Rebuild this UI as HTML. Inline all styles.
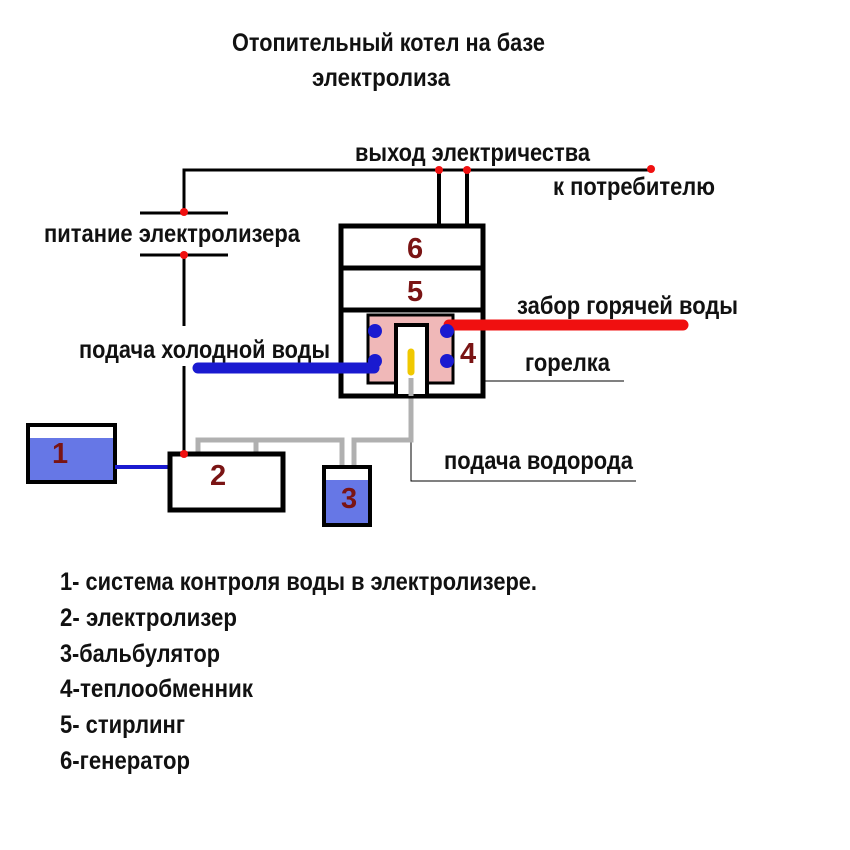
<!DOCTYPE html>
<html><head><meta charset="utf-8"><style>body{margin:0;background:#fff}svg{display:block}text{font-family:"Liberation Sans",sans-serif;font-weight:bold}</style></head><body>
<svg width="850" height="850" viewBox="0 0 850 850" xmlns="http://www.w3.org/2000/svg">
<g fill="#111" font-size="25">
<text x="232" y="51" textLength="313" lengthAdjust="spacingAndGlyphs">Отопительный котел на базе</text>
<text x="312" y="86" textLength="138" lengthAdjust="spacingAndGlyphs">электролиза</text>
<text x="355" y="161" textLength="235" lengthAdjust="spacingAndGlyphs">выход электричества</text>
<text x="553" y="195" textLength="162" lengthAdjust="spacingAndGlyphs">к потребителю</text>
<text x="44" y="242" textLength="256" lengthAdjust="spacingAndGlyphs">питание электролизера</text>
<text x="79" y="358" textLength="251" lengthAdjust="spacingAndGlyphs">подача холодной воды</text>
<text x="517" y="314" textLength="221" lengthAdjust="spacingAndGlyphs">забор горячей воды</text>
<text x="525" y="371" textLength="85" lengthAdjust="spacingAndGlyphs">горелка</text>
<text x="444" y="469" textLength="189" lengthAdjust="spacingAndGlyphs">подача водорода</text>
<text x="60" y="590" textLength="477" lengthAdjust="spacingAndGlyphs">1- система контроля воды в электролизере.</text>
<text x="60" y="626" textLength="177" lengthAdjust="spacingAndGlyphs">2- электролизер</text>
<text x="60" y="662" textLength="160" lengthAdjust="spacingAndGlyphs">3-бальбулятор</text>
<text x="60" y="697" textLength="193" lengthAdjust="spacingAndGlyphs">4-теплообменник</text>
<text x="60" y="733" textLength="125" lengthAdjust="spacingAndGlyphs">5- стирлинг</text>
<text x="60" y="769" textLength="130" lengthAdjust="spacingAndGlyphs">6-генератор</text>
</g>
<g stroke="#000" fill="none">
<polyline points="184,212 184,170 651,170" stroke-width="3"/>
<line x1="140" y1="213" x2="228" y2="213" stroke-width="3"/>
<line x1="140" y1="255" x2="228" y2="255" stroke-width="3"/>
<line x1="184" y1="255" x2="184" y2="326" stroke-width="3"/>
<line x1="184" y1="366" x2="184" y2="455" stroke-width="3"/>
<line x1="439" y1="170" x2="439" y2="225" stroke-width="4"/>
<line x1="467" y1="170" x2="467" y2="225" stroke-width="4"/>
<line x1="455" y1="381" x2="624" y2="381" stroke-width="1"/>
<polyline points="411,440 411,481 636,481" stroke-width="1"/>
</g>
<g stroke="#b0b0b0" stroke-width="5" fill="none">
<polyline points="198,455 198,440 342,440 342,476"/>
<line x1="256" y1="440" x2="256" y2="455"/>
<polyline points="354,476 354,440 411,440 411,378"/>
</g>
<rect x="341" y="226" width="142" height="170" fill="#fff" stroke="#000" stroke-width="5"/>
<line x1="341" y1="268" x2="483" y2="268" stroke="#000" stroke-width="5"/>
<line x1="341" y1="310" x2="483" y2="310" stroke="#000" stroke-width="5"/>
<rect x="368" y="315" width="85" height="68" fill="#f0b8b8" stroke="#000" stroke-width="3"/>
<rect x="396" y="325" width="31" height="71" fill="#fff" stroke="#000" stroke-width="4"/>
<line x1="411" y1="352" x2="411" y2="372" stroke="#f0c800" stroke-width="7" stroke-linecap="round"/>
<line x1="411" y1="378" x2="411" y2="396" stroke="#b0b0b0" stroke-width="5"/>
<line x1="198" y1="368" x2="374" y2="368" stroke="#1a1ad0" stroke-width="11" stroke-linecap="round"/>
<line x1="449" y1="325" x2="683" y2="325" stroke="#f01010" stroke-width="11" stroke-linecap="round"/>
<g fill="#1a1ad0">
<circle cx="375" cy="331" r="7"/><circle cx="375" cy="361" r="7"/>
<circle cx="447" cy="331" r="7"/><circle cx="447" cy="361" r="7"/>
</g>
<rect x="28" y="425" width="87" height="57" fill="#fff" stroke="#000" stroke-width="4"/>
<rect x="30" y="438" width="83" height="42" fill="#6677e6"/>
<line x1="115" y1="467" x2="169" y2="467" stroke="#1a1ad0" stroke-width="4"/>
<rect x="170" y="454" width="113" height="56" fill="#fff" stroke="#000" stroke-width="5"/>
<rect x="324" y="467" width="46" height="58" fill="#fff" stroke="#000" stroke-width="4"/>
<rect x="326" y="480" width="42" height="43" fill="#6677e6"/>
<g fill="#7a1414" font-size="29">
<text x="407" y="258">6</text><text x="407" y="301">5</text><text x="460" y="363">4</text>
<text x="52" y="463">1</text><text x="210" y="485">2</text><text x="341" y="508">3</text>
</g>
<g fill="#f01010">
<circle cx="184" cy="212" r="4"/><circle cx="184" cy="255" r="4"/>
<circle cx="439" cy="170" r="4"/><circle cx="467" cy="170" r="4"/><circle cx="651" cy="169" r="4"/>
<circle cx="184" cy="454" r="4"/>
</g>
</svg>
</body></html>
